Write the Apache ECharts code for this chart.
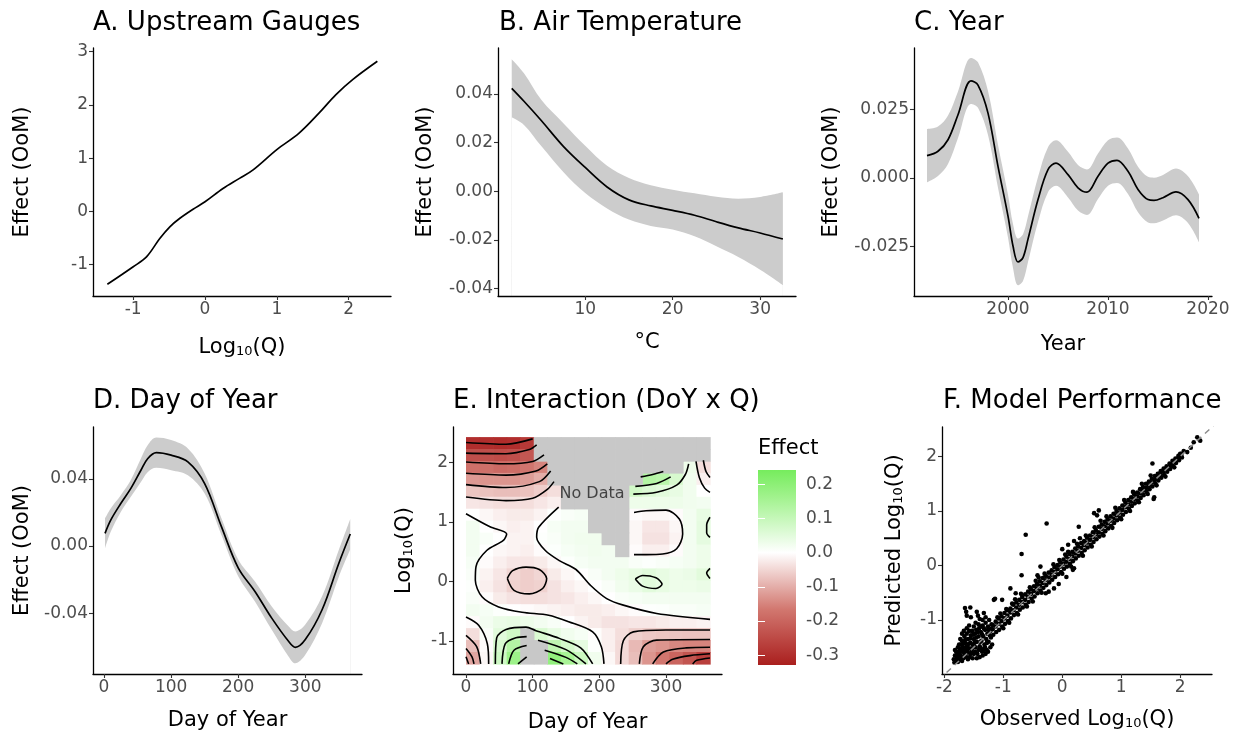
<!DOCTYPE html>
<html>
<head>
<meta charset="utf-8">
<script src="https://cdn.jsdelivr.net/npm/echarts@6/dist/echarts.min.js"></script>
<style>
  html, body { margin: 0; padding: 0; background: #fff; }
  #chart { width: 1239px; height: 742px; }
</style>
</head>
<body>
<div id="chart"></div>
<script>
// ---- A. Upstream gauges
var aX = [-1.36, -1.0, -0.815, -0.63, -0.49, -0.35, -0.167, 0, 0.25, 0.48, 0.67, 1.0, 1.31, 1.59, 1.82, 2.06, 2.40];
var aY = [-1.37, -1.04, -0.855, -0.51, -0.29, -0.13, 0.04, 0.18, 0.43, 0.62, 0.78, 1.16, 1.47, 1.85, 2.19, 2.48, 2.82];

// ---- B. Air temperature
var bX  = [1.6, 3, 5, 7.5, 10, 12.5, 15, 17.5, 20, 22.5, 25, 27.5, 30, 32.6];
var bY  = [0.0423, 0.037, 0.029, 0.0185, 0.0098, 0.0018, -0.0035, -0.006, -0.0078, -0.0098, -0.0125, -0.015, -0.0171, -0.0196];
var bHi = [0.0543, 0.0485, 0.0375, 0.028, 0.0187, 0.0105, 0.0055, 0.0025, 0.0007, -0.0008, -0.0022, -0.0030, -0.0023, -0.0004];
var bLo = [0.0304, 0.0273, 0.0185, 0.008, -0.0007, -0.007, -0.0116, -0.0142, -0.0157, -0.0185, -0.0226, -0.027, -0.0322, -0.0385];

// ---- C. Year
var cX  = [1991.9, 1993, 1994, 1995, 1996.3, 1997, 1998, 1999, 2000, 2000.5, 2001, 2001.5, 2002, 2003, 2004, 2004.8, 2006, 2007, 2007.9, 2009, 2010, 2010.9, 2012, 2013, 2014, 2014.6, 2015.5, 2016.8, 2018, 2019.1];
var cY  = [0.0081, 0.0097, 0.0139, 0.023, 0.0353, 0.0338, 0.0236, 0.0042, -0.0139, -0.0248, -0.0306, -0.029, -0.0223, -0.0079, 0.003, 0.0054, 0.0012, -0.0036, -0.0052, 0.0006, 0.0054, 0.0064, 0.0024, -0.0042, -0.0079, -0.0082, -0.0072, -0.0051, -0.0079, -0.0147];
var cHi = [0.0178, 0.0187, 0.0227, 0.0315, 0.0437, 0.0421, 0.0316, 0.012, -0.0061, -0.0168, -0.0221, -0.0205, -0.014, 0.0003, 0.0112, 0.0137, 0.0095, 0.0047, 0.0031, 0.0089, 0.0137, 0.0147, 0.0107, 0.0041, 0.0004, 0.0001, 0.0011, 0.0034, 0.0006, -0.006];
var cLo = [-0.0016, 0.0007, 0.0051, 0.0145, 0.0269, 0.0255, 0.0156, -0.0036, -0.0217, -0.0328, -0.0391, -0.0375, -0.0306, -0.0161, -0.0052, -0.0029, -0.0071, -0.0119, -0.0135, -0.0077, -0.0029, -0.0019, -0.0059, -0.0125, -0.0162, -0.0165, -0.0155, -0.0136, -0.0164, -0.0234];

// ---- D. Day of year
var dX  = [1.5, 10, 25, 40, 55, 65, 78, 100, 125, 150, 175, 200, 225, 250, 275, 285, 300, 325, 350, 367];
var dY  = [0.0075, 0.0154, 0.0253, 0.0343, 0.0451, 0.052, 0.0556, 0.0541, 0.0501, 0.0372, 0.0115, -0.013, -0.0271, -0.043, -0.0568, -0.0604, -0.0558, -0.038, -0.0103, 0.0071];
var dHi = [0.0165, 0.0224, 0.0303, 0.0393, 0.0521, 0.060, 0.0646, 0.0631, 0.0581, 0.0432, 0.0165, -0.008, -0.0211, -0.036, -0.0478, -0.0509, -0.0468, -0.030, -0.0023, 0.0161];
var dLo = [-0.0015, 0.0084, 0.0203, 0.0293, 0.0381, 0.044, 0.0466, 0.0451, 0.0421, 0.0312, 0.0065, -0.018, -0.0331, -0.050, -0.0658, -0.0699, -0.0648, -0.046, -0.0183, -0.0019];

// ---- E. Interaction surface (rows top -> bottom, null = no data)
var eDayMin = 0, eDayMax = 366, eQMin = -1.39, eQMax = 2.43;
var eGrid = [
  [-0.30, -0.30, -0.305, -0.30, -0.28, null, null, null, null, null, null, null, null, null, null, null, null, null],
  [-0.24, -0.24, -0.245, -0.24, -0.225, null, null, null, null, null, null, null, null, null, null, null, null, null],
  [-0.18, -0.18, -0.19, -0.185, -0.17, -0.15, null, null, null, null, null, null, null, null, null, null, 0.03, -0.04],
  [-0.125, -0.13, -0.13, -0.13, -0.12, -0.10, null, null, null, null, null, null, null, 0.13, 0.12, 0.07, 0.025, -0.02],
  [-0.07, -0.075, -0.08, -0.08, -0.075, -0.06, -0.04, null, null, null, null, null, 0.08, 0.06, 0.05, 0.04, 0.025, 0.0],
  [-0.03, -0.035, -0.04, -0.04, -0.04, -0.03, -0.02, null, null, null, null, null, 0.03, 0.03, 0.03, 0.03, 0.025, 0.02],
  [0.0, -0.01, -0.02, -0.025, -0.025, -0.015, 0.003, 0.01, 0.015, null, null, null, -0.005, -0.01, -0.01, -0.005, 0.02, 0.04],
  [0.02, 0.0, -0.01, -0.02, -0.015, 0.0, 0.015, 0.02, 0.02, null, null, null, -0.01, -0.03, -0.03, -0.01, 0.02, 0.045],
  [0.02, 0.01, 0.0, -0.015, -0.015, 0.003, 0.01, 0.02, 0.025, 0.025, null, null, -0.01, -0.035, -0.035, -0.015, 0.02, 0.045],
  [0.02, 0.0, -0.01, -0.015, -0.02, -0.005, 0.005, 0.015, 0.02, 0.025, 0.02, null, -0.005, -0.02, -0.02, -0.005, 0.02, 0.03],
  [0.015, -0.005, -0.02, -0.03, -0.03, -0.025, -0.01, 0.005, 0.015, 0.02, 0.02, 0.02, 0.01, 0.005, 0.01, 0.015, 0.02, 0.03],
  [0.01, -0.015, -0.03, -0.05, -0.06, -0.05, -0.025, -0.01, 0.0, 0.01, 0.02, 0.03, 0.04, 0.05, 0.04, 0.03, 0.035, 0.05],
  [0.005, -0.02, -0.035, -0.055, -0.06, -0.055, -0.035, -0.02, -0.01, 0.0, 0.01, 0.025, 0.035, 0.05, 0.04, 0.03, 0.03, 0.035],
  [0.01, -0.005, -0.025, -0.035, -0.04, -0.04, -0.035, -0.03, -0.02, -0.01, 0.0, 0.01, 0.015, 0.02, 0.02, 0.02, 0.02, 0.02],
  [0.02, 0.015, 0.005, 0.0, -0.005, -0.01, -0.015, -0.02, -0.025, -0.025, -0.02, -0.01, -0.005, 0.003, 0.005, 0.01, 0.01, 0.015],
  [-0.005, 0.02, 0.035, 0.04, 0.03, 0.02, 0.012, 0.0, -0.015, -0.025, -0.035, -0.035, -0.03, -0.03, -0.025, -0.02, -0.02, -0.015],
  [-0.04, 0.01, 0.05, 0.08, null, 0.065, 0.04, 0.025, 0.015, -0.003, -0.02, -0.04, -0.058, -0.066, -0.07, -0.072, -0.074, -0.075],
  [-0.08, -0.005, 0.07, 0.13, null, null, 0.11, 0.075, 0.045, 0.005, -0.02, -0.045, -0.085, -0.12, -0.13, -0.145, -0.15, -0.15],
  [-0.11, -0.01, 0.085, 0.17, null, null, 0.19, 0.15, 0.09, 0.025, -0.01, -0.045, -0.08, -0.13, -0.17, -0.20, -0.23, -0.27]
];
var eContours = [
  [[0, 2.34], [60, 2.31], [100, 2.40]],
  [[0, 2.16], [60, 2.15], [95, 2.22], [106, 2.3]],
  [[0, 2.01], [60, 1.98], [100, 2.02], [117, 2.13]],
  [[0, 1.82], [60, 1.79], [105, 1.86], [122, 1.98]],
  [[0, 1.63], [60, 1.58], [110, 1.68], [127, 1.86]],
  [[0, 1.42], [60, 1.36], [100, 1.40], [122, 1.55], [132, 1.68]],
  [[0, 1.14], [36, 0.92], [61, 0.80], [56, 0.69], [31, 0.52], [15, 0.25], [14, 0.02], [24, -0.26], [49, -0.43], [84, -0.52], [124, -0.57], [154, -0.68], [190, -0.85], [203, -1.1], [207, -1.39]],
  [[139, 1.25], [109, 0.91], [106, 0.745], [119, 0.52], [140, 0.35], [165, 0.2], [187, -0.07], [211, -0.29], [236, -0.40], [286, -0.54], [366, -0.64]],
  [[62, 0.05], [70, 0.18], [90, 0.24], [110, 0.2], [121, 0.05], [115, -0.12], [95, -0.21], [72, -0.15], [62, 0.05]],
  [[252, 1.16], [270, 1.19], [300, 1.2], [320, 1.05], [325, 0.8], [316, 0.55], [295, 0.46], [270, 0.45], [252, 0.45]],
  [[262, 1.76], [280, 1.8], [296, 1.85]],
  [[254, 1.6], [286, 1.65], [307, 1.76]],
  [[251, 1.47], [286, 1.5], [316, 1.62], [329, 1.8], [334, 1.98]],
  [[345, 2.02], [350, 1.75], [358, 1.57], [366, 1.5]],
  [[356, 2.04], [360, 1.85], [366, 1.75]],
  [[366, 1.08], [361, 0.95], [361, 0.82], [366, 0.74]],
  [[366, 0.22], [361, 0.14], [366, 0.05]],
  [[254, 0.04], [265, 0.1], [285, 0.06], [294, -0.05], [285, -0.12], [265, -0.08], [254, 0.04]],
  [[232, -1.39], [236, -1.0], [251, -0.85], [300, -0.82], [366, -0.82]],
  [[260, -1.39], [266, -1.1], [286, -0.99], [366, -0.98]],
  [[280, -1.39], [296, -1.19], [330, -1.12], [366, -1.11]],
  [[300, -1.39], [310, -1.31], [336, -1.25], [366, -1.22]],
  [[340, -1.39], [346, -1.33], [366, -1.29]],
  [[0, -0.6], [19, -0.74], [32, -1.05], [34, -1.39]],
  [[0, -0.91], [16, -1.1], [22, -1.39]],
  [[0, -1.13], [9, -1.27], [12, -1.39]],
  [[0, -1.27], [4, -1.39]],
  [[44, -1.39], [46, -0.95], [60, -0.81], [90, -0.77], [105, -0.83], [140, -0.96], [172, -1.12], [190, -1.39]],
  [[54, -1.39], [59, -1.05], [75, -0.95], [91, -0.93]],
  [[108, -0.99], [150, -1.15], [180, -1.39]],
  [[64, -1.39], [72, -1.16], [91, -1.08]],
  [[118, -1.16], [150, -1.28], [167, -1.39]],
  [[78, -1.39], [91, -1.27]],
  [[126, -1.30], [146, -1.39]]
];
var eNoDataLabel = [[189, 1.48]];
var eLegendTicks = [-0.3, -0.2, -0.1, 0, 0.1, 0.2];

// ---- F. Model performance (observed, predicted)
var fPairs = [
  [-1.84,-1.72],[-1.82,-1.65],[-1.80,-1.75],[-1.80,-1.58],[-1.78,-1.68],[-1.77,-1.50],[-1.76,-1.62],[-1.75,-1.72],[-1.74,-1.55],[-1.72,-1.45],
  [-1.72,-1.66],[-1.70,-1.58],[-1.70,-1.38],[-1.68,-1.70],[-1.68,-1.50],[-1.66,-1.62],[-1.66,-1.30],[-1.65,-1.42],[-1.64,-1.55],[-1.63,-1.68],
  [-1.62,-1.25],[-1.62,-1.48],[-1.60,-1.60],[-1.60,-1.35],[-1.58,-1.20],[-1.58,-1.52],[-1.57,-1.68],[-1.56,-1.42],[-1.55,-1.28],[-1.54,-1.58],
  [-1.53,-1.20],[-1.52,-1.45],[-1.50,-1.35],[-1.50,-1.62],[-1.48,-1.25],[-1.47,-1.50],[-1.46,-1.18],[-1.45,-1.40],[-1.44,-1.62],[-1.42,-1.30],
  [-1.41,-1.15],[-1.40,-1.48],[-1.38,-1.22],[-1.37,-1.38],[-1.36,-1.58],[-1.35,-1.10],[-1.34,-1.30],[-1.32,-1.45],[-1.31,-1.18],[-1.30,-1.05],
  [-1.29,-1.35],[-1.28,-1.55],[-1.27,-1.25],[-1.26,-1.12],[-1.25,-1.40],[-1.24,-1.00],[-1.22,-1.20],[-1.21,-1.32],[-1.20,-1.08],[-1.19,-1.45],
  [-1.83,-1.78],[-1.79,-1.70],[-1.74,-1.63],[-1.71,-1.52],[-1.69,-1.44],[-1.67,-1.56],[-1.64,-1.36],[-1.61,-1.54],[-1.59,-1.44],[-1.56,-1.34],
  [-1.53,-1.52],[-1.51,-1.27],[-1.49,-1.42],[-1.46,-1.32],[-1.43,-1.22],[-1.39,-1.40],[-1.36,-1.26],[-1.33,-1.15],[-1.28,-1.42],[-1.25,-1.18],
  [-1.23,-1.28],[-1.20,-1.16],[-1.40,-1.68],[-1.35,-1.65],[-1.30,-1.62],[-1.26,-1.58],[-1.22,-1.50],[-1.45,-1.70],[-1.52,-1.70],[-1.60,-1.72],
  [-1.38,-1.52],[-1.33,-1.55],
  [-1.82,-1.55],[-1.78,-1.60],[-1.75,-1.45],[-1.73,-1.35],[-1.70,-1.25],[-1.67,-1.20],[-1.62,-1.15],[-1.58,-1.10],[-1.50,-1.12],[-1.47,-1.05],
  [-1.42,-1.08],[-1.38,-1.12],[-1.35,-1.00],[-1.48,-1.58],[-1.42,-1.55],[-1.55,-1.62],[-1.65,-1.65],[-1.70,-1.75],[-1.77,-1.77],[-1.31,-1.50],
  [-1.65,-0.78],[-1.63,-0.85],[-1.62,-0.92],[-1.56,-0.77],[-1.55,-0.95],[-1.45,-0.85],[-1.43,-0.92],[-1.40,-0.98],[-1.33,-0.87],[-1.30,-0.95],
  [-1.18,-1.09],[-1.18,-1.17],[-1.17,-1.27],[-1.13,-1.03],[-1.13,-1.12],[-1.12,-1.22],[-1.08,-0.97],[-1.08,-1.07],[-1.07,-1.18],
  [-1.03,-0.93],[-1.03,-1.02],[-1.02,-1.12],[-0.98,-0.87],[-0.98,-0.97],[-0.97,-1.07],[-0.93,-0.82],[-0.93,-0.92],[-0.92,-1.02],
  [-0.88,-0.79],[-0.88,-0.86],[-0.87,-0.97],[-0.83,-0.72],[-0.83,-0.82],[-0.82,-0.91],[-0.78,-0.68],[-0.78,-0.77],[-0.77,-0.87],
  [-0.73,-0.63],[-0.73,-0.72],[-0.72,-0.81],[-0.68,-0.58],[-0.68,-0.67],[-0.67,-0.77],[-0.63,-0.53],[-0.63,-0.63],[-0.62,-0.72],
  [-0.58,-0.48],[-0.58,-0.57],[-0.57,-0.67],[-0.53,-0.44],[-0.53,-0.52],[-0.52,-0.61],[-0.48,-0.38],[-0.48,-0.47],[-0.47,-0.57],
  [-0.43,-0.34],[-0.43,-0.42],[-0.42,-0.51],[-0.38,-0.29],[-0.38,-0.37],[-0.37,-0.46],[-0.33,-0.23],[-0.33,-0.32],[-0.32,-0.41],
  [-0.28,-0.19],[-0.28,-0.27],[-0.27,-0.36],[-0.23,-0.13],[-0.23,-0.22],[-0.22,-0.31],[-0.18,-0.09],[-0.18,-0.17],[-0.17,-0.26],
  [-0.13,-0.03],[-0.13,-0.12],[-0.12,-0.21],[-0.08,0.01],[-0.08,-0.07],[-0.07,-0.16],[-0.03,0.06],[-0.03,-0.02],[-0.02,-0.12],
  [0.02,0.11],[0.02,0.03],[0.03,-0.06],[0.07,0.16],[0.07,0.07],[0.08,-0.02],[0.12,0.21],[0.12,0.12],[0.13,0.03],
  [0.17,0.25],[0.17,0.17],[0.18,0.08],[0.22,0.31],[0.22,0.22],[0.23,0.13],[0.27,0.35],[0.27,0.27],[0.28,0.18],
  [0.32,0.41],[0.32,0.32],[0.33,0.23],[0.37,0.45],[0.37,0.37],[0.38,0.28],[0.42,0.51],[0.42,0.42],[0.43,0.33],
  [0.47,0.55],[0.47,0.47],[0.48,0.38],[0.52,0.61],[0.52,0.52],[0.53,0.43],[0.57,0.65],[0.57,0.57],[0.58,0.48],
  [0.62,0.71],[0.62,0.61],[0.63,0.53],[0.67,0.75],[0.67,0.67],[0.68,0.58],[0.72,0.80],[0.72,0.72],[0.73,0.63],
  [0.77,0.85],[0.77,0.77],[0.78,0.68],[0.82,0.90],[0.82,0.82],[0.83,0.73],[0.87,0.95],[0.87,0.86],[0.88,0.78],
  [0.92,1.00],[0.92,0.92],[0.93,0.83],[0.97,1.05],[0.97,0.97],[0.98,0.88],[1.02,1.10],[1.02,1.02],[1.03,0.93],
  [1.07,1.15],[1.07,1.07],[1.08,0.98],[1.12,1.20],[1.12,1.12],[1.13,1.04],[1.17,1.25],[1.17,1.17],[1.18,1.09],
  [1.22,1.30],[1.22,1.22],[1.23,1.14],[1.27,1.34],[1.27,1.27],[1.28,1.19],[1.32,1.40],[1.32,1.32],[1.33,1.24],
  [1.37,1.44],[1.37,1.37],[1.38,1.29],[1.42,1.50],[1.42,1.42],[1.43,1.35],[1.47,1.54],[1.47,1.47],[1.48,1.40],
  [1.52,1.59],[1.52,1.52],[1.53,1.45],[1.57,1.64],[1.57,1.57],[1.58,1.50],[1.62,1.68],[1.62,1.62],[1.63,1.56],
  [1.67,1.73],[1.67,1.67],[1.68,1.61],[1.72,1.78],[1.72,1.72],[1.73,1.66],[1.77,1.82],[1.77,1.77],[1.78,1.72],
  [1.82,1.87],[1.82,1.82],[1.83,1.77],[1.87,1.92],[1.87,1.87],[1.88,1.82],[1.92,1.96],[1.92,1.92],[1.93,1.88],
  [1.97,2.01],[1.97,1.97],[1.98,1.93],[2.02,2.05],[2.02,2.01],[2.03,1.98],
  [-1.10,-0.95],[-1.05,-0.88],[-0.95,-0.80],[-0.85,-0.70],[-0.80,-0.62],[-0.70,-0.52],[-0.55,-0.40],[-0.45,-0.28],[-0.40,-0.22],[-0.30,-0.15],
  [-0.15,0.02],[-0.05,0.10],[0.05,0.20],[0.10,0.25],[0.25,0.40],[0.40,0.55],[0.55,0.70],[0.65,0.82],[0.75,0.90],[0.90,1.06],
  [1.05,1.20],[1.20,1.35],[1.35,1.50],[1.50,1.65],
  [-1.00,-1.15],[-0.90,-1.05],[-0.75,-0.90],[-0.60,-0.75],[-0.50,-0.66],[-0.35,-0.50],[0.00,-0.15],[0.15,-0.02],[0.35,0.18],[0.50,0.35],
  [0.70,0.55],[0.85,0.69],[1.00,0.85],[1.15,1.00],[1.30,1.16],[1.45,1.31],[1.60,1.47],[1.75,1.63],[1.90,1.80],
  [-0.265,0.77],[-0.62,0.565],[-0.69,0.21],[-0.69,-0.18],[-1.14,-0.61],[-1.16,-0.63],[-1.02,-0.63],[-0.88,-0.42],[-0.79,-0.51],[-0.42,-0.18],
  [-0.37,-0.02],[0.28,0.71],[0.59,0.92],[0.62,1.01],[0.54,0.96],[1.53,1.87],[1.55,1.22],[1.56,1.25],[2.29,2.35],[2.23,2.26],
  [2.34,2.29],[2.12,2.08],[2.00,2.05],[1.98,1.99],[2.18,2.16],[2.06,2.10],
  [-0.28,-0.51],[-0.23,-0.48],[-0.14,-0.42],[-0.06,-0.34],[0.07,-0.21],[0.20,-0.05],[0.18,-0.08],
  [0.0,0.30],[0.1,0.38],[0.2,0.45],[0.3,0.50]
];
var fRef = [[-2.1, -2.1], [2.6, 2.6]];

// ---- tick values
var aXTicks = [-1, 0, 1, 2], aYTicks = [-1, 0, 1, 2, 3];
var bXTicks = [10, 20, 30], bYTicks = [-0.04, -0.02, 0, 0.02, 0.04];
var cXTicks = [2000, 2010, 2020], cYTicks = [-0.025, 0, 0.025];
var dXTicks = [0, 100, 200, 300], dYTicks = [-0.04, 0, 0.04];
var eXTicks = [0, 100, 200, 300], eYTicks = [-1, 0, 1, 2];
var fXTicks = [-2, -1, 0, 1, 2], fYTicks = [-1, 0, 1, 2];

var FONT = 'DejaVu Sans';
var GREY = '#4d4d4d';
var RICH = {
  a: { fontSize: 21, fontFamily: FONT, color: '#000', lineHeight: 26, verticalAlign: 'bottom' },
  s: { fontSize: 13, fontFamily: FONT, color: '#000', lineHeight: 14, verticalAlign: 'bottom' }
};
var LOGQ = '{a|Log}{s|10}{a|(Q)}';

// colour scale (low - mid - high)
var cStops = [[-0.33, [170, 30, 30]], [-0.165, [210, 120, 112]], [0, [255, 255, 255]], [0.165, [160, 242, 140]], [0.33, [70, 230, 40]]];
function rgb(c) { return 'rgb(' + c.map(Math.round).join(',') + ')'; }
function colorAt(v) {
  for (var k = 0; k < cStops.length - 1; k++) {
    var a = cStops[k], b = cStops[k + 1];
    if (v <= b[0]) {
      var t = (v - a[0]) / (b[0] - a[0]);
      return rgb(a[1].map(function (x, i) { return x + (b[1][i] - x) * t; }));
    }
  }
  return rgb(cStops[cStops.length - 1][1]);
}

function zip(xs, ys) { return xs.map(function (x, i) { return [x, ys[i]]; }); }
function fmt(n) { return function (v) { return v.toFixed(n); }; }

function axis(g, min, max, ticks, f, name, gap, isY) {
  return {
    type: 'value', gridIndex: g, min: min, max: max, z: 3,
    name: name, nameLocation: 'middle', nameGap: gap, nameRotate: isY ? 90 : 0,
    nameTextStyle: { color: '#000', fontSize: 21, fontFamily: FONT, rich: RICH },
    axisLine: { show: true, onZero: false, lineStyle: { color: '#000', width: 1.3 } },
    axisTick: { show: true, length: 4, customValues: ticks, lineStyle: { color: '#333', width: 1.1 } },
    axisLabel: { color: GREY, fontSize: 17, fontFamily: FONT, margin: 5, customValues: ticks, formatter: f },
    splitLine: { show: false }
  };
}

var grids = [
  { left: 93, top: 48, width: 298, height: 248 },
  { left: 498, top: 48, width: 298, height: 248 },
  { left: 914, top: 48, width: 298, height: 248 },
  { left: 93, top: 427, width: 269, height: 247 },
  { left: 453, top: 427, width: 269, height: 247 },
  { left: 942, top: 427, width: 270, height: 247 },
  { left: 758, top: 470, width: 38, height: 195 }
];

var xAxes = [
  axis(0, -1.56, 2.59, aXTicks, fmt(0), LOGQ, 36, false),
  axis(1, 0.03, 34.1, bXTicks, fmt(0), '°C', 36, false),
  axis(2, 1990.6, 2020.4, cXTicks, fmt(0), 'Year', 38, false),
  axis(3, -16.4, 384.5, dXTicks, fmt(0), 'Day of Year', 36, false),
  axis(4, -19.5, 384, eXTicks, fmt(0), 'Day of Year', 38, false),
  axis(5, -2.04, 2.54, fXTicks, fmt(0), '{a|Observed Log}{s|10}{a|(Q)}', 30, false),
  { type: 'value', gridIndex: 6, min: 0, max: 1, show: false }
];
var yAxes = [
  axis(0, -1.59, 3.07, aYTicks, fmt(0), 'Effect (OoM)', 60, true),
  axis(1, -0.043, 0.0589, bYTicks, fmt(2), 'Effect (OoM)', 62, true),
  axis(2, -0.043, 0.0473, cYTicks, fmt(3), 'Effect (OoM)', 72, true),
  axis(3, -0.0763, 0.0709, dYTicks, fmt(2), 'Effect (OoM)', 60, true),
  axis(4, -1.56, 2.60, eYTicks, fmt(0), LOGQ, 38, true),
  axis(5, -1.99, 2.54, fYTicks, fmt(0), '{a|Predicted Log}{s|10}{a|(Q)}', 37, true),
  {
    type: 'value', gridIndex: 6, min: -0.329, max: 0.242, position: 'right', z: 5,
    axisLine: { show: false }, splitLine: { show: false },
    axisTick: { show: true, inside: true, length: 7, customValues: eLegendTicks, lineStyle: { color: '#fff', width: 1 } },
    axisLabel: { color: GREY, fontSize: 17, fontFamily: FONT, margin: 10, customValues: eLegendTicks, formatter: fmt(1) }
  },
  {
    type: 'value', gridIndex: 6, min: -0.329, max: 0.242, position: 'left', z: 5,
    axisLine: { show: false }, splitLine: { show: false }, axisLabel: { show: false },
    axisTick: { show: true, inside: true, length: 7, customValues: eLegendTicks, lineStyle: { color: '#fff', width: 1 } }
  }
];

var series = [];
function smoothLine(g, xs, ys) {
  series.push({
    type: 'line', xAxisIndex: g, yAxisIndex: g, data: zip(xs, ys), smooth: 0.35,
    symbol: 'none', lineStyle: { color: '#000', width: 1.7 }, z: 4, silent: true
  });
}
// ribbon: grey fill below the upper edge, then white fill below the lower edge
function band(g, xs, lo, hi) {
  series.push({
    type: 'line', xAxisIndex: g, yAxisIndex: g, data: zip(xs, hi), smooth: 0.35, symbol: 'none',
    lineStyle: { opacity: 0 }, areaStyle: { color: '#cccccc', opacity: 1, origin: 'start' }, z: 1, silent: true
  });
  series.push({
    type: 'line', xAxisIndex: g, yAxisIndex: g, data: zip(xs, lo), smooth: 0.35, symbol: 'none',
    lineStyle: { opacity: 0 }, areaStyle: { color: '#ffffff', opacity: 1, origin: 'start' }, z: 1, silent: true
  });
}

smoothLine(0, aX, aY);
band(1, bX, bLo, bHi); smoothLine(1, bX, bY);
band(2, cX, cLo, cHi); smoothLine(2, cX, cY);
band(3, dX, dLo, dHi); smoothLine(3, dX, dY);

// E: surface cells built from the grid
var eCols = eGrid[0].length, eRows = eGrid.length;
var dStep = (eDayMax - eDayMin) / eCols, qStep = (eQMax - eQMin) / eRows;
var eCells = [], eGrey = [];
eGrid.forEach(function (row, j) {
  row.forEach(function (v, i) {
    var d0 = eDayMin + i * dStep, q1 = eQMax - j * qStep;
    if (v === null) eGrey.push([d0, q1 - qStep, d0 + dStep, q1]);
    else eCells.push([d0, q1 - qStep, d0 + dStep, q1, v]);
  });
});
function cellItem(fill) {
  return function (params, api) {
    var p0 = api.coord([api.value(0), api.value(3)]);
    var p1 = api.coord([api.value(2), api.value(1)]);
    return {
      type: 'rect',
      shape: { x: p0[0], y: p0[1], width: p1[0] - p0[0] + 0.7, height: p1[1] - p0[1] + 0.7 },
      style: { fill: fill || api.visual('color') }
    };
  };
}
var cellSeriesIndex = series.length;
series.push({
  type: 'custom', xAxisIndex: 4, yAxisIndex: 4, data: eCells, renderItem: cellItem(null),
  encode: { x: [0, 2], y: [1, 3] }, silent: true, z: 1
});
series.push({
  type: 'custom', xAxisIndex: 4, yAxisIndex: 4, data: eGrey, renderItem: cellItem('#c8c8c8'),
  encode: { x: [0, 2], y: [1, 3] }, silent: true, z: 1
});
eContours.forEach(function (pl) {
  series.push({
    type: 'line', xAxisIndex: 4, yAxisIndex: 4, data: pl, smooth: 0.3, symbol: 'none',
    lineStyle: { color: '#000', width: 1.6 }, z: 4, silent: true
  });
});
series.push({
  type: 'scatter', xAxisIndex: 4, yAxisIndex: 4, data: eNoDataLabel, symbolSize: 0, z: 5,
  label: { show: true, position: 'inside', formatter: 'No Data', color: '#222', fontSize: 16, fontFamily: FONT }
});

// colour bar
var cbStops = [0.242, 0.165, 0, -0.165, -0.329].map(function (v) {
  return { offset: (0.242 - v) / (0.242 + 0.329), color: colorAt(v) };
});
series.push({
  type: 'custom', xAxisIndex: 6, yAxisIndex: 6, data: [[0, -0.329, 1, 0.242]], silent: true,
  encode: { x: [0, 2], y: [1, 3] },
  renderItem: function (params, api) {
    var p0 = api.coord([api.value(0), api.value(3)]);
    var p1 = api.coord([api.value(2), api.value(1)]);
    return {
      type: 'rect', shape: { x: p0[0], y: p0[1], width: p1[0] - p0[0], height: p1[1] - p0[1] },
      style: { fill: new echarts.graphic.LinearGradient(0, 0, 0, 1, cbStops) }
    };
  }
});

// F
series.push({
  type: 'scatter', xAxisIndex: 5, yAxisIndex: 5, data: fPairs, symbolSize: 4.6,
  itemStyle: { color: '#000', opacity: 1 }, silent: true, z: 2
});
series.push({
  type: 'line', xAxisIndex: 5, yAxisIndex: 5, data: fRef, symbol: 'none', clip: true,
  lineStyle: { color: '#8c8c8c', width: 1.5, type: [6, 5] }, z: 5, silent: true
});

function title(text, left, top, size) {
  return { text: text, left: left, top: top, padding: 0,
    textStyle: { fontFamily: FONT, fontSize: size || 26, fontWeight: 'normal', color: '#000' } };
}

var chart = echarts.init(document.getElementById('chart'), null, { renderer: 'canvas' });
chart.setOption({
  animation: false,
  backgroundColor: '#fff',
  title: [
    title('A. Upstream Gauges', 93, 10),
    title('B. Air Temperature', 499, 10),
    title('C. Year', 914, 10),
    title('D. Day of Year', 93, 388),
    title('E. Interaction (DoY x Q)', 453, 388),
    title('F. Model Performance', 943, 388),
    title('Effect', 758, 438, 21)
  ],
  grid: grids,
  xAxis: xAxes,
  yAxis: yAxes,
  visualMap: [{
    type: 'continuous', show: false, min: -0.33, max: 0.33, dimension: 4,
    seriesIndex: cellSeriesIndex,
    inRange: { color: cStops.map(function (s) { return rgb(s[1]); }) }
  }],
  series: series
});
</script>
</body>
</html>
